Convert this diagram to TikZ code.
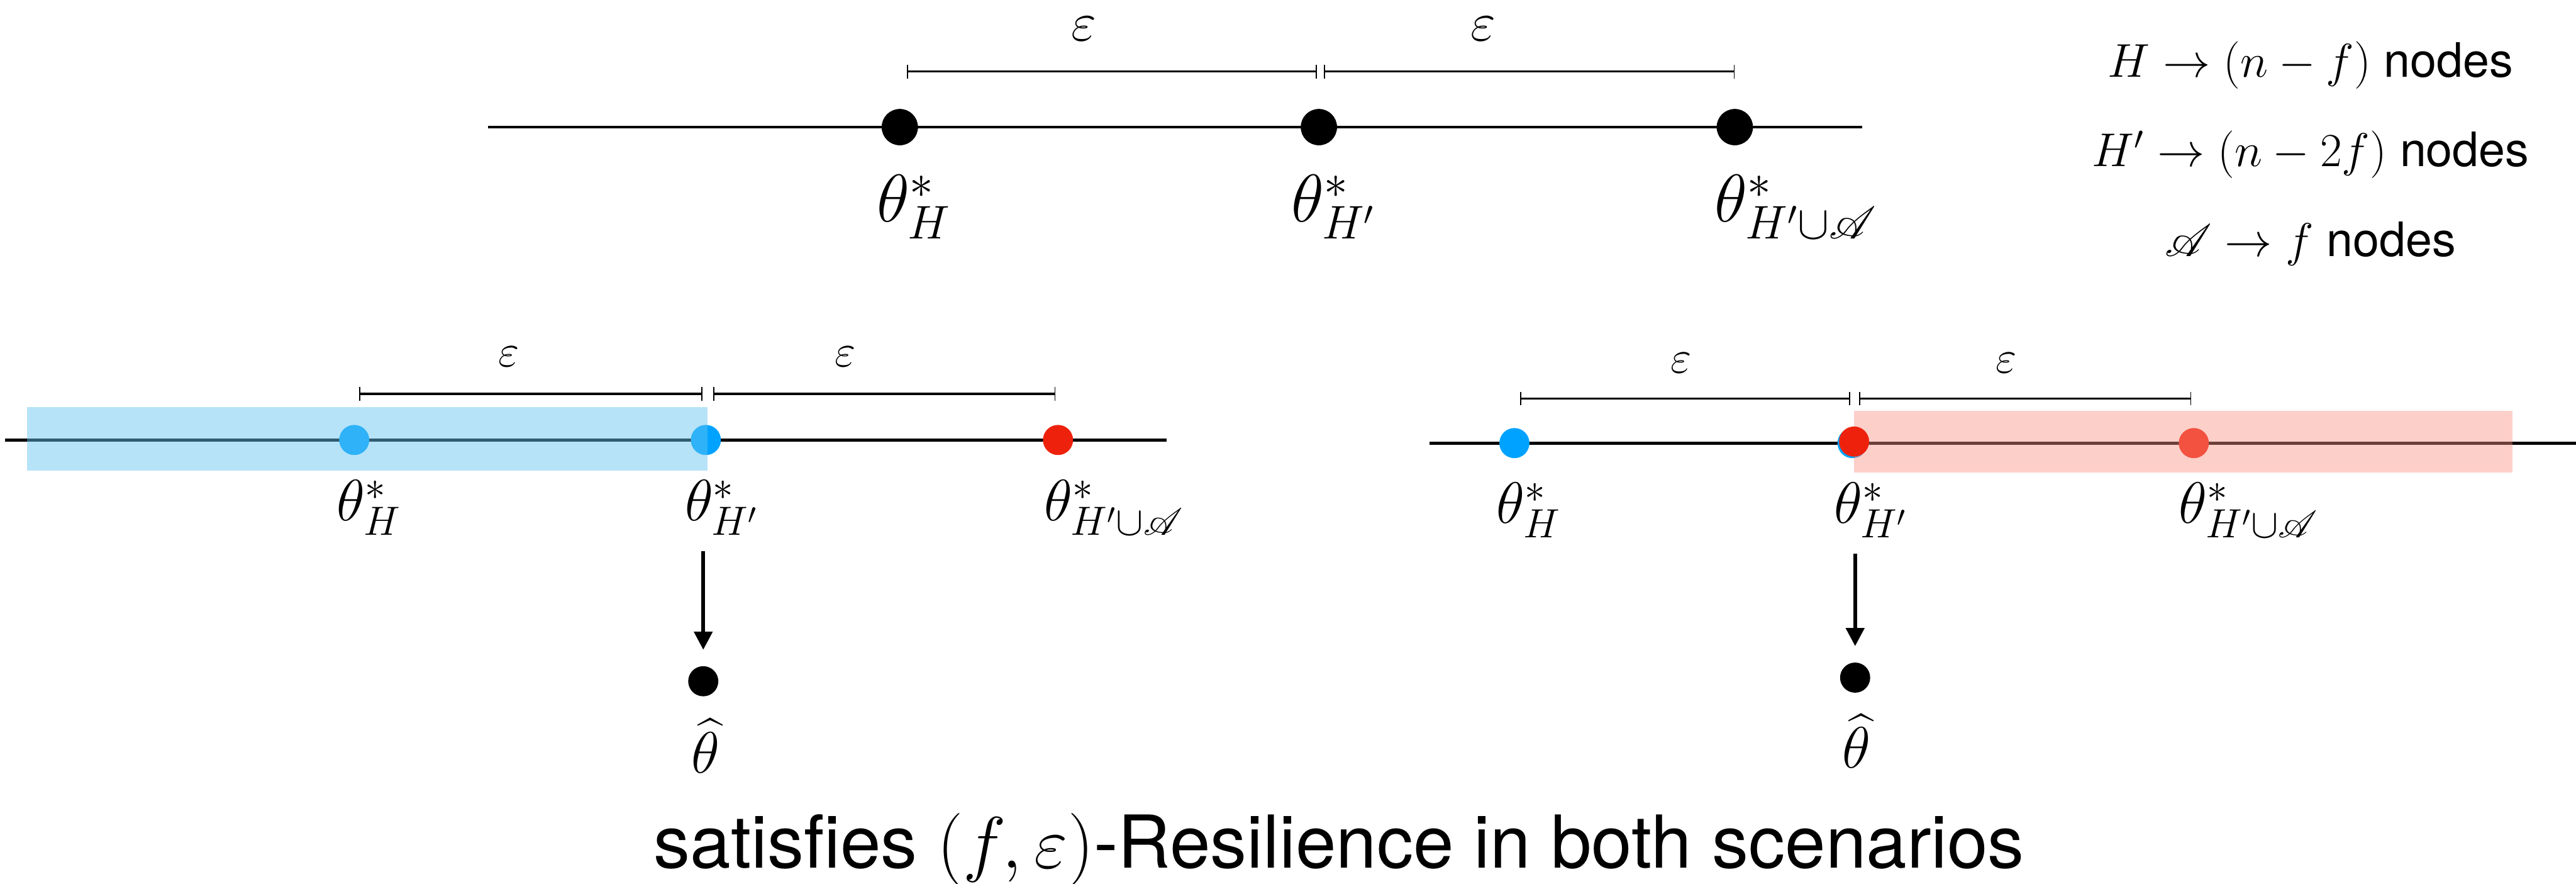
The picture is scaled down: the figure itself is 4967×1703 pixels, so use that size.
\RequirePackage{fix-cm}
\documentclass[tikz,border=0pt]{standalone}
\usepackage{amsmath}
\usepackage{mathrsfs}
\usepackage[no-math]{fontspec}
\setmainfont{TeX Gyre Heros}
\usetikzlibrary{arrows.meta, positioning}
\definecolor{dotblue}{RGB}{0,162,255}
\definecolor{dotred}{RGB}{238,34,12}
\definecolor{hlblue}{RGB}{100,196,240}
\definecolor{hlred}{RGB}{250,145,132}

\begin{document}
\begin{tikzpicture}[
		x=0.01cm, y=-0.01cm,
		dot/.style={circle, fill=black, inner sep=0pt, minimum size=0.7cm},
		sdot/.style={circle, inner sep=0pt, minimum size=0.58cm},
		axis/.style={line width=0.055cm},
		epsbar/.style={
				line width=0.04cm,
				{Bar[width=0.26cm, line width'=0.02cm]}-{Bar[width=0.26cm, line width'=0.02cm]}
			},
		bigeps/.style={font=\fontsize{30}{34}\selectfont, inner sep=0pt},
		smalleps/.style={font=\fontsize{25}{28}\selectfont, inner sep=0pt},
		toplbl/.style={font=\fontsize{37}{42}\selectfont, inner sep=0pt, anchor=north west},
		botlbl/.style={font=\fontsize{32}{36}\selectfont, inner sep=0pt, anchor=north west},
		legend/.style={font=\fontsize{26}{30}\selectfont, inner sep=0pt},
		down/.style={line width=0.07cm, -{Triangle[width=0.35cm, length=0.35cm]}},
	]
	\useasboundingbox (0,0) rectangle (4967,1703);

	% top line
	\coordinate (tL) at (941,245);
	\coordinate (tR) at (3590,245);
	\coordinate (tbar) at (0,138);
	\draw[axis] (tL) -- (tR);
	\node[dot] (tH) at (1735,245) {};
	\node[dot] (tHp) at (2543,245) {};
	\node[dot] (tHA) at (3345,245) {};

	\draw[epsbar] ([xshift=0.14cm]tH |- tbar) -- ([xshift=-0.04cm]tHp |- tbar);
	\draw[epsbar] ([xshift=0.1cm]tHp |- tbar) -- (tHA |- tbar);
	\node[bigeps] (te1) at (2090,56) {$\varepsilon$};
	\node[bigeps] (te2) at (2860,56) {$\varepsilon$};

	\node[toplbl] (tHl) at (1690,337) {$\theta^*_H$};
	\node[toplbl] (tHpl) at (2489,337) {$\theta^*_{H'}$};
	\node[toplbl] (tHAl) at (3306,337) {$\theta^*_{H'\cup\mathscr{A}}$};

	% legend
	\node[legend] (lg1) at (4455,126) {$H \rightarrow (n-f)$ nodes};
	\node[legend] (lg2) at (4455,298) {$H' \rightarrow (n-2f)$ nodes};
	\node[legend] (lg3) at (4455,470) {$\mathscr{A} \rightarrow f$ nodes};

	% left scenario
	\coordinate (lL) at (10,848);
	\coordinate (lR) at (2249,848);
	\coordinate (lbar) at (0,759);
	\draw[axis] (lL) -- (lR);
	\node[sdot, fill=dotblue] (lH) at (683,848) {};
	\node[sdot, fill=dotblue] (lHp) at (1361,848) {};
	\node[sdot, fill=dotred] (lHA) at (2040,848) {};
	\fill[hlblue, opacity=0.47] (52,784) rectangle (1364,907);

	\draw[epsbar] ([xshift=0.1cm]lH |- lbar) -- ([xshift=-0.07cm]lHp |- lbar);
	\draw[epsbar] ([xshift=0.14cm]lHp |- lbar) -- ([xshift=-0.05cm]lHA |- lbar);
	\node[smalleps] (le1) at (981,688) {$\varepsilon$};
	\node[smalleps] (le2) at (1630,688) {$\varepsilon$};

	\node[botlbl] (lHl) at (649,925) {$\theta^*_H$};
	\node[botlbl] (lHpl) at (1320,925) {$\theta^*_{H'}$};
	\node[botlbl] (lHAl) at (2013,925) {$\theta^*_{H'\cup\mathscr{A}}$};

	\node[sdot, fill=black] (hatL) at (1356,1313) {};
	\node[botlbl, anchor=north] (hatLl) at (1360,1385) {$\widehat{\theta}$};
	\draw[down, shorten <=0.3cm, shorten >=0.31cm] (hatL |- lHpl.south) -- (hatL.north);

	% right scenario
	\coordinate (rL) at (2756,854);
	\coordinate (rR) at (4967,854);
	\coordinate (rbar) at (0,768);
	\draw[axis] (rL) -- (rR);
	\node[sdot, fill=dotblue] (rH) at (2920,854) {};
	\node[sdot, fill=dotblue] (rHp) at (3572,854) {};
	\node[sdot, fill=dotred] (rHA) at (4230,854) {};
	\fill[hlred, opacity=0.44] (3575,792) rectangle (4844,911);
	\node[sdot, fill=dotred] (rHpr) at (3575,851) {};

	\draw[epsbar] ([xshift=0.11cm]rH |- rbar) -- ([xshift=-0.05cm]rHp |- rbar);
	\draw[epsbar] ([xshift=0.13cm]rHp |- rbar) -- ([xshift=-0.05cm]rHA |- rbar);
	\node[smalleps] (re1) at (3242,699) {$\varepsilon$};
	\node[smalleps] (re2) at (3868,699) {$\varepsilon$};

	\node[botlbl] (rHl) at (2885,930) {$\theta^*_H$};
	\node[botlbl] (rHpl) at (3536,930) {$\theta^*_{H'}$};
	\node[botlbl] (rHAl) at (4201,930) {$\theta^*_{H'\cup\mathscr{A}}$};

	\node[sdot, fill=black] (hatR) at (3577,1306) {};
	\node[botlbl, anchor=north] (hatRl) at (3580,1376) {$\widehat{\theta}$};
	\draw[down, shorten <=0.3cm, shorten >=0.31cm] (hatR |- rHpl.south) -- (hatR.north);

	% caption
	\node[font=\fontsize{40}{46}\selectfont, inner sep=0pt, anchor=base] (cap) at (2582,1673)
	{satisfies $(f,\varepsilon)$-Resilience in both scenarios};
\end{tikzpicture}
\end{document}
